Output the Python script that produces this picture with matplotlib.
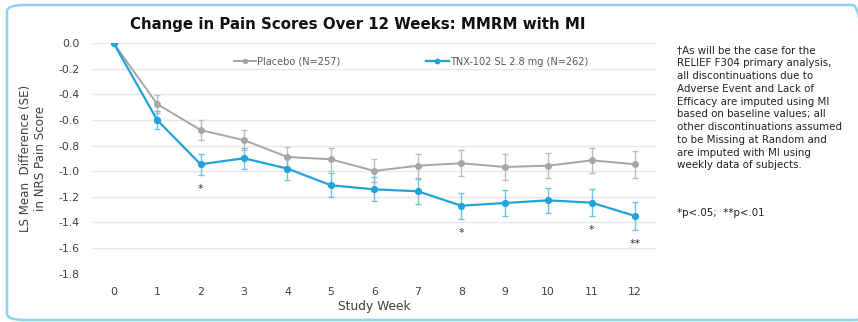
import matplotlib
matplotlib.use("Agg")
import matplotlib.pyplot as plt
from matplotlib.patches import FancyBboxPatch
from matplotlib.ticker import FuncFormatter

weeks = [0, 1, 2, 3, 4, 5, 6, 7, 8, 9, 10, 11, 12]
placebo = [0.0, -0.475, -0.678, -0.758, -0.889, -0.907, -0.998, -0.957, -0.938, -0.967, -0.957, -0.915, -0.946]
placebo_se = [0.0, 0.07, 0.078, 0.08, 0.082, 0.09, 0.09, 0.095, 0.1, 0.1, 0.1, 0.1, 0.105]
tnx = [0.0, -0.600, -0.946, -0.899, -0.980, -1.110, -1.142, -1.157, -1.270, -1.249, -1.228, -1.246, -1.350]
tnx_se = [0.0, 0.07, 0.08, 0.083, 0.085, 0.094, 0.095, 0.098, 0.1, 0.1, 0.097, 0.105, 0.108]
sig_weeks = [2, 8, 11, 12]
sig_marks = ["*", "*", "*", "**"]
yticks = [0.0, -0.2, -0.4, -0.6, -0.8, -1.0, -1.2, -1.4, -1.6, -1.8]

title = "Change in Pain Scores Over 12 Weeks: MMRM with MI"
ylabel = "LS Mean  Difference (SE)\nin NRS Pain Score"
xlabel = "Study Week"
placebo_label = "Placebo (N=257)"
tnx_label = "TNX-102 SL 2.8 mg (N=262)"
footnote = ("\u2020As will be the case for the\n"
            "RELIEF F304 primary analysis,\n"
            "all discontinuations due to\n"
            "Adverse Event and Lack of\n"
            "Efficacy are imputed using MI\n"
            "based on baseline values; all\n"
            "other discontinuations assumed\n"
            "to be Missing at Random and\n"
            "are imputed with MI using\n"
            "weekly data of subjects.")
pnote = "*p<.05;  **p<.01"

W, H = 858, 322
fig = plt.figure(figsize=(W / 100, H / 100), dpi=100)
ax = fig.add_axes([92 / W, 1 - 273.5 / H, (656.7 - 92) / W, (273.5 - 43.3) / H])

gray = "#A6A6A6"
gray_err = "#BDBDBD"
blue = "#22A3D8"
blue_err = "#6FC3E6"
txt = "#404040"

ax.errorbar(weeks[1:], placebo[1:], yerr=placebo_se[1:], fmt="none", ecolor=gray_err,
            elinewidth=1.0, capsize=2.5, capthick=1.0, zorder=2)
ax.errorbar(weeks[1:], tnx[1:], yerr=tnx_se[1:], fmt="none", ecolor=blue_err,
            elinewidth=1.0, capsize=2.5, capthick=1.0, zorder=2)
l1, = ax.plot(weeks, placebo, color=gray, lw=1.4, marker="o", ms=4, label=placebo_label, zorder=3)
l2, = ax.plot(weeks, tnx, color=blue, lw=1.6, marker="o", ms=4.2, label=tnx_label, zorder=4)

for w, m in zip(sig_weeks, sig_marks):
    i = weeks.index(w)
    ax.text(w, tnx[i] - tnx_se[i] - 0.11, m, ha="center", va="center",
            fontsize=8, color="#333333")

ax.set_xlim(-0.5, 12.5)
ax.set_ylim(-1.8, 0.0)
ax.set_xticks(weeks)
ax.set_yticks(yticks)
ax.yaxis.set_major_formatter(FuncFormatter(lambda v, p: f"{v:.1f}".replace("\u2212", "-")))
ax.grid(axis="y", color="#E8E8E8", lw=1.0, zorder=0)
ax.set_axisbelow(True)
for s in ax.spines.values():
    s.set_visible(False)
ax.tick_params(axis="both", length=0, labelsize=7.8, colors=txt)
ax.tick_params(axis="x", pad=10)
ax.tick_params(axis="y", pad=9)

ax.set_xlabel(xlabel, fontsize=8.8, color=txt, labelpad=2)
ax.set_ylabel(ylabel, fontsize=8.6, color=txt, va="center", linespacing=1.2)
ax.yaxis.set_label_coords(-0.104, 0.5)

leg = ax.legend(handles=[l1, l2], loc="center", bbox_to_anchor=((411 - 92) / 564.7, 1 - (61.7 - 43.3) / 230.2),
                ncol=2, frameon=False, fontsize=7.0, handlelength=2.3, handletextpad=0.1,
                columnspacing=8.8, markerscale=0.75)
for t in leg.get_texts():
    t.set_color("#595959")

fig.text(357.5 / W, 1 - 25 / H, title, ha="center", va="center", fontsize=10.8,
         fontweight="bold", color="#111111")
fig.text(677 / W, 1 - 45.5 / H, footnote, ha="left", va="top", fontsize=7.4,
         color="#222222", linespacing=1.345)
fig.text(677 / W, 1 - 212.7 / H, pnote, ha="left", va="center", fontsize=7.4, color="#222222")

box = FancyBboxPatch((7 / W, 1 - 320 / H), (870 - 7) / W, (320 - 5) / H,
                     boxstyle="round,pad=0,rounding_size=0.02", transform=fig.transFigure,
                     fill=False, edgecolor="#8FD2EC", lw=1.8, clip_on=False)
fig.patches.append(box)

fig.savefig("out.png", dpi=100)
